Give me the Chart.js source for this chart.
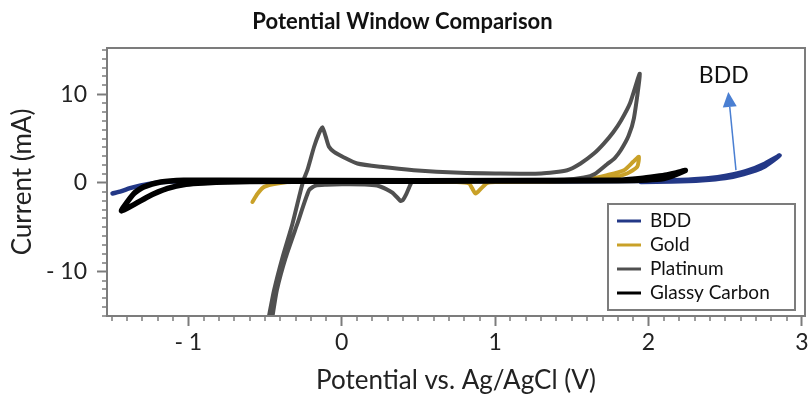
<!DOCTYPE html>
<html>
<head>
<meta charset="utf-8">
<title>Potential Window Comparison</title>
<script src="https://cdn.jsdelivr.net/npm/chart.js@4/dist/chart.umd.min.js"></script>
<style>
  html, body { margin: 0; padding: 0; background: #ffffff; }
  #wrap { width: 809px; height: 394px; position: relative; }
</style>
</head>
<body>
<div id="wrap"><canvas id="cv"></canvas></div>
<script>
// Cyclic voltammograms of four electrode materials (potential in V, current in mA)
const seriesNames = ['BDD', 'Gold', 'Platinum', 'Glassy Carbon'];

const bddV = [-1.494, -1.44, -1.38, -1.31, -1.22, -1.10, -0.90, 0.00, 1.00, 1.90, 2.10, 2.30, 2.45, 2.55, 2.65, 2.75, 2.855,
              2.75, 2.62, 2.50, 2.35, 2.15, 1.95];
const bddI = [-1.20, -0.95, -0.60, -0.28, 0.00, 0.15, 0.20, 0.20, 0.20, 0.20, 0.25, 0.40, 0.65, 0.95, 1.40, 2.10, 3.10,
              1.80, 1.00, 0.55, 0.30, 0.15, 0.10];

const goldV = [-0.582, -0.55, -0.506, -0.42, -0.30, 0.20, 0.80, 1.30, 1.50, 1.62, 1.73, 1.84, 1.90, 1.937,
               1.926, 1.86, 1.77, 1.60, 1.30, 1.00, 0.95, 0.91, 0.873, 0.85, 0.83, 0.75, 0.50];
const goldI = [-2.15, -1.25, -0.45, -0.07, 0.15, 0.20, 0.20, 0.20, 0.25, 0.45, 0.87, 1.43, 2.37, 2.94,
               1.80, 1.06, 0.60, 0.30, 0.15, 0.10, 0.00, -0.60, -1.20, -0.60, -0.07, 0.10, 0.10];

const platinumV = [-0.49, -0.474, -0.441, -0.386, -0.321, -0.267, -0.245, -0.224, -0.18, -0.148, -0.126, -0.104, -0.083,
                   -0.05, 0.015, 0.102, 0.254, 0.47, 0.775, 1.00, 1.30, 1.47, 1.557, 1.644, 1.71, 1.77, 1.82, 1.88, 1.943,
                   1.905, 1.87, 1.82, 1.78, 1.73, 1.65, 1.58, 1.45, 1.00, 0.50, 0.46, 0.44, 0.42, 0.40, 0.385, 0.365,
                   0.33, 0.29, 0.23, 0.15, 0.00, -0.10, -0.17, -0.213, -0.289, -0.365, -0.423, -0.451, -0.465];
const platinumI = [-16.5, -15.0, -12.1, -8.4, -4.6, -0.82, 0.50, 1.43, 4.07, 5.58, 6.26, 5.20, 4.07,
                   3.50, 2.87, 2.19, 1.81, 1.43, 1.13, 1.06, 1.06, 1.43, 2.19, 3.30, 4.45, 5.70, 7.00, 9.00, 12.30,
                   7.30, 5.30, 3.70, 2.80, 2.10, 1.00, 0.60, 0.35, 0.30, 0.30, 0.20, -0.50, -1.30, -1.90, -2.05, -1.70,
                   -1.10, -0.70, -0.30, -0.17, -0.15, -0.20, -0.30, -0.82, -4.60, -8.40, -12.10, -15.0, -16.5];

const carbonV = [0.00, -0.60, -0.90, -1.015, -1.135, -1.266, -1.435, -1.355, -1.29, -1.18, -1.03, -0.80, 0.50, 1.80,
                 1.95, 2.05, 2.12, 2.18, 2.24, 2.10, 1.80, 1.00, 0.00];
const carbonI = [0.20, 0.15, 0.00, -0.15, -0.63, -1.58, -3.16, -1.20, -0.45, 0.10, 0.30, 0.30, 0.25, 0.30,
                 0.50, 0.72, 0.90, 1.12, 1.40, 0.50, 0.25, 0.20, 0.20];

// Axis ticks
const xTickValues = [-1, 0, 1, 2, 3];
const xTickLabels = ['- 1', '0', '1', '2', '3'];
const yTickValues = [-10, 0, 10];
const yTickLabels = ['- 10', '0', '10'];

// Annotation pointing at the BDD anodic limit
const noteText = 'BDD';
const noteTextAt = [2.49, 12.1];
const noteArrowFrom = [2.57, 1.43];
const noteArrowTo = [2.52, 10.25];

const seriesColors = ['#233887', '#c9a128', '#505050', '#000000'];
const FONT = "Lato, 'Open Sans', sans-serif";

function zipPoints(vs, is) {
  return vs.map((v, k) => ({ x: v, y: is[k] }));
}

const seriesData = [
  zipPoints(bddV, bddI),
  zipPoints(goldV, goldI),
  zipPoints(platinumV, platinumI),
  zipPoints(carbonV, carbonI)
];

// Glassy carbon is drawn on top, BDD at the bottom
const drawOrder = [3, 2, 1, 0];
const lineWidths = [4.5, 4, 4, 5.5];

const datasets = seriesNames.map((name, k) => ({
  label: name,
  data: seriesData[k],
  showLine: true,
  borderColor: seriesColors[k],
  backgroundColor: seriesColors[k],
  borderWidth: lineWidths[k],
  pointRadius: 0,
  pointHoverRadius: 0,
  tension: 0.2,
  borderCapStyle: 'round',
  borderJoinStyle: 'round',
  clip: 0,
  order: drawOrder[k]
}));

// Short minor ticks every 0.1 V and 1 mA, plus the box around the plot
const framePlugin = {
  id: 'frameAndMinorTicks',
  afterDatasetsDraw(chart) {
    const { ctx, chartArea: a, scales: { x, y } } = chart;
    ctx.save();
    ctx.strokeStyle = '#7c7c7c';
    ctx.lineWidth = 1.5;
    ctx.beginPath();
    for (let k = Math.ceil(x.min * 10); k <= Math.floor(x.max * 10); k++) {
      if (k % 10 === 0) continue;
      const px = Math.round(x.getPixelForValue(k / 10));
      ctx.moveTo(px, a.bottom);
      ctx.lineTo(px, a.bottom + 5);
    }
    for (let k = Math.ceil(y.min); k <= Math.floor(y.max); k++) {
      if (k % 10 === 0) continue;
      const py = Math.round(y.getPixelForValue(k));
      ctx.moveTo(a.left, py);
      ctx.lineTo(a.left - 5, py);
    }
    ctx.stroke();
    ctx.lineWidth = 2;
    ctx.strokeRect(a.left, a.top, a.right - a.left, a.bottom - a.top);
    ctx.restore();
  }
};

// Boxed legend in the lower right corner of the plot
const legendBoxPlugin = {
  id: 'legendBox',
  afterDatasetsDraw(chart) {
    const { ctx, chartArea: a } = chart;
    const left = a.right - 197, right = a.right - 10;
    const top = a.bottom - 112, bottom = a.bottom - 6;
    ctx.save();
    ctx.fillStyle = '#ffffff';
    ctx.fillRect(left, top, right - left, bottom - top);
    ctx.strokeStyle = '#7c7c7c';
    ctx.lineWidth = 2;
    ctx.strokeRect(left, top, right - left, bottom - top);
    ctx.font = '19px ' + FONT;
    ctx.textBaseline = 'middle';
    ctx.textAlign = 'left';
    chart.data.datasets.forEach((ds, k) => {
      const cy = top + 17 + k * 24;
      ctx.strokeStyle = ds.borderColor;
      ctx.lineWidth = 3;
      ctx.beginPath();
      ctx.moveTo(left + 9, cy);
      ctx.lineTo(left + 33, cy);
      ctx.stroke();
      ctx.fillStyle = '#111111';
      ctx.fillText(ds.label, left + 42, cy);
    });
    ctx.restore();
  }
};

// Text label and arrow marking the BDD curve
const notePlugin = {
  id: 'bddNote',
  afterDatasetsDraw(chart) {
    const { ctx, scales: { x, y } } = chart;
    const x0 = x.getPixelForValue(noteArrowFrom[0]), y0 = y.getPixelForValue(noteArrowFrom[1]);
    const x1 = x.getPixelForValue(noteArrowTo[0]), y1 = y.getPixelForValue(noteArrowTo[1]);
    const ang = Math.atan2(y1 - y0, x1 - x0);
    const head = 15, half = 7;
    const bx = x1 - head * Math.cos(ang), by = y1 - head * Math.sin(ang);
    ctx.save();
    ctx.strokeStyle = '#4a7fd2';
    ctx.fillStyle = '#4a7fd2';
    ctx.lineWidth = 1.5;
    ctx.beginPath();
    ctx.moveTo(x0, y0);
    ctx.lineTo(bx, by);
    ctx.stroke();
    ctx.beginPath();
    ctx.moveTo(x1, y1);
    ctx.lineTo(bx + half * Math.sin(ang), by - half * Math.cos(ang));
    ctx.lineTo(bx - half * Math.sin(ang), by + half * Math.cos(ang));
    ctx.closePath();
    ctx.fill();
    ctx.font = '23px ' + FONT;
    ctx.fillStyle = '#111111';
    ctx.textAlign = 'center';
    ctx.textBaseline = 'middle';
    ctx.fillText(noteText, x.getPixelForValue(noteTextAt[0]), y.getPixelForValue(noteTextAt[1]));
    ctx.restore();
  }
};

new Chart(document.getElementById('cv'), {
  type: 'scatter',
  data: { datasets },
  options: {
    responsive: true,
    maintainAspectRatio: false,
    animation: false,
    devicePixelRatio: 1,
    layout: { padding: { left: 0, right: 4, top: 0, bottom: 0 } },
    plugins: {
      legend: { display: false },
      tooltip: { enabled: false },
      title: {
        display: true,
        text: 'Potential Window Comparison',
        color: '#111111',
        font: { family: FONT, size: 22, weight: 'bold', lineHeight: 1.0 },
        padding: { top: 11, bottom: 15 }
      }
    },
    scales: {
      x: {
        type: 'linear',
        min: -1.53,
        max: 3.02,
        afterBuildTicks(scale) { scale.ticks = xTickValues.map(v => ({ value: v })); },
        afterFit(scale) { scale.height = 78; scale.paddingLeft = 0; scale.paddingRight = 0; },
        ticks: {
          callback: (v) => xTickLabels[xTickValues.indexOf(v)],
          color: '#222222',
          font: { family: FONT, size: 23 },
          padding: 3,
          maxRotation: 0,
          autoSkip: false
        },
        grid: { drawOnChartArea: false, drawTicks: true, tickLength: 10, tickWidth: 2, tickColor: '#7c7c7c' },
        border: { display: false },
        title: {
          display: true,
          text: 'Potential vs. Ag/AgCl (V)',
          color: '#222222',
          font: { family: FONT, size: 26, lineHeight: 1.0 },
          padding: { top: 0, bottom: 0 }
        }
      },
      y: {
        type: 'linear',
        min: -15,
        max: 15.2,
        afterBuildTicks(scale) { scale.ticks = yTickValues.map(v => ({ value: v })); },
        afterFit(scale) { scale.width = 107; scale.paddingTop = 0; scale.paddingBottom = 0; },
        ticks: {
          callback: (v) => yTickLabels[yTickValues.indexOf(v)],
          color: '#222222',
          font: { family: FONT, size: 23 },
          padding: 10,
          autoSkip: false
        },
        grid: { drawOnChartArea: false, drawTicks: true, tickLength: 10, tickWidth: 2, tickColor: '#7c7c7c' },
        border: { display: false },
        title: {
          display: true,
          text: 'Current (mA)',
          color: '#222222',
          font: { family: FONT, size: 26, lineHeight: 1.0 },
          padding: { top: 10, bottom: 0 }
        }
      }
    }
  },
  plugins: [framePlugin, legendBoxPlugin, notePlugin]
});
</script>
</body>
</html>
